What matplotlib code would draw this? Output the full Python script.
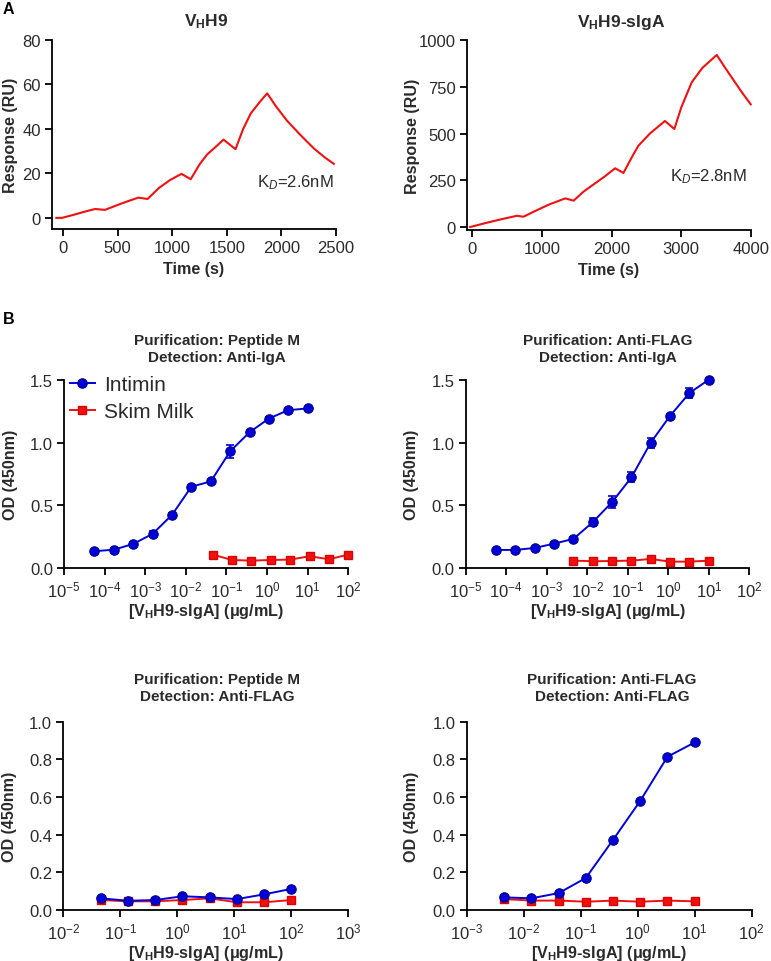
import numpy as np
import matplotlib
matplotlib.use("Agg")
import matplotlib.pyplot as plt
from matplotlib.ticker import LogLocator, NullLocator, FormatStrFormatter

plt.rcParams['font.family'] = ['Liberation Sans', 'DejaVu Sans']
plt.rcParams['mathtext.fontset'] = 'custom'
plt.rcParams['mathtext.rm'] = 'Liberation Sans'
plt.rcParams['mathtext.bf'] = 'Liberation Sans:bold'
plt.rcParams['mathtext.it'] = 'Liberation Sans:italic'

# ---------------- Data ----------------
# Panel A: SPR sensorgrams
t_vhh9 = [-60, -10, 100, 200, 295, 385, 500, 600, 690, 775, 880, 980, 1085, 1170,
          1250, 1320, 1400, 1470, 1580, 1650, 1720, 1800, 1870, 1950, 2050, 2170,
          2300, 2400, 2480]
resp_vhh9 = [0, 0, 1.4, 2.8, 4.0, 3.6, 5.8, 7.6, 9.1, 8.5, 13.5, 17.0, 19.8, 17.4,
             24.0, 28.5, 32.0, 35.2, 30.9, 40.0, 47.0, 52.0, 56.0, 50.2, 43.8, 37.5,
             31.1, 27.1, 24.3]
t_siga = [-30, 200, 400, 640, 735, 900, 1100, 1335, 1455, 1600, 1716, 1900, 2050,
          2170, 2300, 2385, 2550, 2765, 2900, 3000, 3150, 3300, 3508, 3650, 3750,
          3870, 3996]
resp_siga = [0, 22, 40, 60, 55, 85, 120, 153, 141, 190, 221, 270, 314, 289, 380,
             435, 500, 567, 524, 640, 774, 850, 920, 840, 785, 720, 656]
kd_labels = ["2.6nM", "2.8nM"]

# Panel B: ELISA
conc_12_from10 = [5.6e-5, 1.69e-4, 5.08e-4, 1.52e-3, 4.57e-3, 1.37e-2, 4.12e-2,
                  0.123, 0.370, 1.11, 3.33, 10.0]
b1_intimin = [0.136, 0.148, 0.194, 0.274, 0.425, 0.649, 0.691, 0.930, 1.082, 1.191,
              1.258, 1.271]
b1_intimin_err = [0.01, 0.01, 0.015, 0.025, 0.015, 0.015, 0.015, 0.05, 0.015, 0.015,
                  0.01, 0.01]
conc_8_from100 = [0.0457, 0.137, 0.412, 1.23, 3.70, 11.1, 33.3, 100.0]
b1_milk = [0.109, 0.066, 0.061, 0.066, 0.069, 0.096, 0.072, 0.109]

b2_intimin = [0.146, 0.146, 0.162, 0.196, 0.234, 0.367, 0.527, 0.723, 1.000, 1.213,
              1.394, 1.500]
b2_intimin_err = [0.01, 0.01, 0.01, 0.01, 0.015, 0.03, 0.05, 0.04, 0.04, 0.015,
                  0.04, 0.01]
conc_8_from10 = [0.00457, 0.0137, 0.0412, 0.123, 0.370, 1.11, 3.33, 10.0]
b2_milk = [0.061, 0.056, 0.058, 0.061, 0.074, 0.053, 0.053, 0.061]

b3_intimin = [0.062, 0.049, 0.053, 0.073, 0.067, 0.058, 0.083, 0.112]
b3_milk = [0.053, 0.046, 0.046, 0.053, 0.062, 0.041, 0.041, 0.053]

b4_intimin = [0.067, 0.062, 0.090, 0.170, 0.373, 0.580, 0.814, 0.890]
b4_milk = [0.058, 0.050, 0.050, 0.044, 0.050, 0.044, 0.050, 0.046]

# ---------------- Figure ----------------
W, H = 771, 962
fig = plt.figure(figsize=(W / 100, H / 100), dpi=100)


def add_ax(left, right, top, bottom):
    return fig.add_axes([left / W, 1 - bottom / H, (right - left) / W, (bottom - top) / H])


TXT = '#2a2a2a'
RED = '#ee1111'
BLUE = '#0000d8'
BLUE_E = '#00008a'
TICKFS = 12
LABFS = 11.6


def style(ax):
    for s in ['top', 'right']:
        ax.spines[s].set_visible(False)
    for s in ['left', 'bottom']:
        ax.spines[s].set_linewidth(1.3)
        ax.spines[s].set_color('black')
    ax.tick_params(direction='out', length=5, width=1.3, labelsize=TICKFS,
                   labelcolor=TXT, pad=3)
    ax.patch.set_alpha(0)


def ftext(x, y, s, **kw):
    fig.text(x / W, 1 - y / H, s, **kw)


# Panel A left
axA1 = add_ax(52, 336, 41, 230)
style(axA1)
axA1.plot(t_vhh9, resp_vhh9, color=RED, lw=1.5, clip_on=False)
axA1.set_xlim(-100, 2500)
axA1.set_ylim(-5, 80)
axA1.set_xticks([0, 500, 1000, 1500, 2000, 2500])
axA1.set_yticks([0, 20, 40, 60, 80])
axA1.set_xlabel('Time (s)', fontsize=LABFS, fontweight='bold', color=TXT)
axA1.set_ylabel('Response (RU)', fontsize=LABFS, fontweight='bold', color=TXT)
axA1.xaxis.set_label_coords(0.5, -0.17)
axA1.yaxis.set_label_coords(-0.118, 0.5)

# Panel A right
axA2 = add_ax(467, 751, 41, 231)
style(axA2)
axA2.plot(t_siga, resp_siga, color=RED, lw=1.5, clip_on=False)
axA2.set_xlim(-75, 4000)
axA2.set_ylim(-16, 1000)
axA2.set_xticks([0, 1000, 2000, 3000, 4000])
axA2.set_yticks([0, 250, 500, 750, 1000])
axA2.set_xlabel('Time (s)', fontsize=LABFS, fontweight='bold', color=TXT)
axA2.set_ylabel('Response (RU)', fontsize=LABFS, fontweight='bold', color=TXT)
axA2.xaxis.set_label_coords(0.5, -0.17)
axA2.yaxis.set_label_coords(-0.165, 0.5)

ftext(206, 22, r'V$_{\mathbf{H}}$H9', ha='center', va='center', fontsize=12.5,
      fontweight='bold', color=TXT)
ftext(621, 22, r'V$_{\mathbf{H}}$H9-sIgA', ha='center', va='center', fontsize=12.5,
      fontweight='bold', color=TXT)
ftext(257, 183, r'K$_{\mathit{D}}$=' + kd_labels[0], ha='left', va='center',
      fontsize=12, color=TXT)
ftext(670, 177, r'K$_{\mathit{D}}$=' + kd_labels[1], ha='left', va='center',
      fontsize=12, color=TXT)
ftext(3, 9, 'A', ha='left', va='center', fontsize=11.5, fontweight='bold', color='black')
ftext(3, 320, 'B', ha='left', va='center', fontsize=11.5, fontweight='bold', color='black')

XLAB = r'[V$_{\mathbf{H}}$H9-sIgA] (μg/mL)'


def elisa(ax, xi, yi, ei, xm, ym, xlim, ylim, yticks, title, tx, ty, ylx):
    style(ax)
    ax.set_xscale('log')
    if ei is not None:
        ax.errorbar(xi, yi, yerr=ei, fmt='none', ecolor=BLUE, elinewidth=1.2,
                    capsize=3, capthick=1.2, clip_on=False, zorder=3)
    ax.plot(xm, ym, color=RED, lw=1.4, marker='s', ms=5.4, mfc=RED, mec='#dd0000',
            clip_on=False, zorder=3, label='Skim Milk')
    ax.plot(xi, yi, color=BLUE, lw=1.4, marker='o', ms=6.8, mfc=BLUE, mec=BLUE_E,
            mew=0.8, clip_on=False, zorder=4, label='Intimin')
    ax.set_xlim(*xlim)
    ax.set_ylim(*ylim)
    ax.set_yticks(yticks)
    ax.yaxis.set_major_formatter(FormatStrFormatter('%.1f'))
    ax.xaxis.set_major_locator(LogLocator(base=10, numticks=20))
    ax.xaxis.set_minor_locator(NullLocator())
    ax.set_xlabel(XLAB, fontsize=LABFS, fontweight='bold', color=TXT)
    ax.set_ylabel('OD (450nm)', fontsize=LABFS, fontweight='bold', color=TXT)
    ax.xaxis.set_label_coords(0.5, -0.175)
    ax.yaxis.set_label_coords(ylx, 0.5)
    ftext(tx, ty, title, ha='center', va='center', fontsize=11, fontweight='bold',
          color=TXT, linespacing=1.2)


axB1 = add_ax(64, 348.3, 380.7, 569.3)
elisa(axB1, conc_12_from10, b1_intimin, b1_intimin_err, conc_8_from100, b1_milk,
      (1e-5, 1e2), (0, 1.5), [0.0, 0.5, 1.0, 1.5],
      'Purification: Peptide M\nDetection: Anti-IgA', 217, 349.5, -0.163)
h, l = axB1.get_legend_handles_labels()
axB1.legend(h[::-1], l[::-1], loc='upper left', bbox_to_anchor=(0.02, 1.025),
            frameon=False, fontsize=15, handlelength=1.2, handletextpad=0.45,
            borderpad=0, borderaxespad=0, labelspacing=0.4, labelcolor=TXT)

axB2 = add_ax(465.7, 749.3, 380.7, 569.3)
elisa(axB2, conc_12_from10, b2_intimin, b2_intimin_err, conc_8_from10, b2_milk,
      (1e-5, 1e2), (0, 1.5), [0.0, 0.5, 1.0, 1.5],
      'Purification: Anti-FLAG\nDetection: Anti-IgA', 608, 349.5, -0.165)

axB3 = add_ax(63.3, 348.3, 722.7, 911)
elisa(axB3, conc_8_from100, b3_intimin, None, conc_8_from100, b3_milk,
      (1e-2, 1e3), (0, 1.0), [0.0, 0.2, 0.4, 0.6, 0.8, 1.0],
      'Purification: Peptide M\nDetection: Anti-FLAG', 217, 688.5, -0.162)

axB4 = add_ax(466.7, 751.7, 722.7, 911)
elisa(axB4, conc_8_from10, b4_intimin, None, conc_8_from10, b4_milk,
      (1e-3, 1e2), (0, 1.0), [0.0, 0.2, 0.4, 0.6, 0.8, 1.0],
      'Purification: Anti-FLAG\nDetection: Anti-FLAG', 612, 688.5, -0.166)

fig.savefig('out.png', dpi=100)
